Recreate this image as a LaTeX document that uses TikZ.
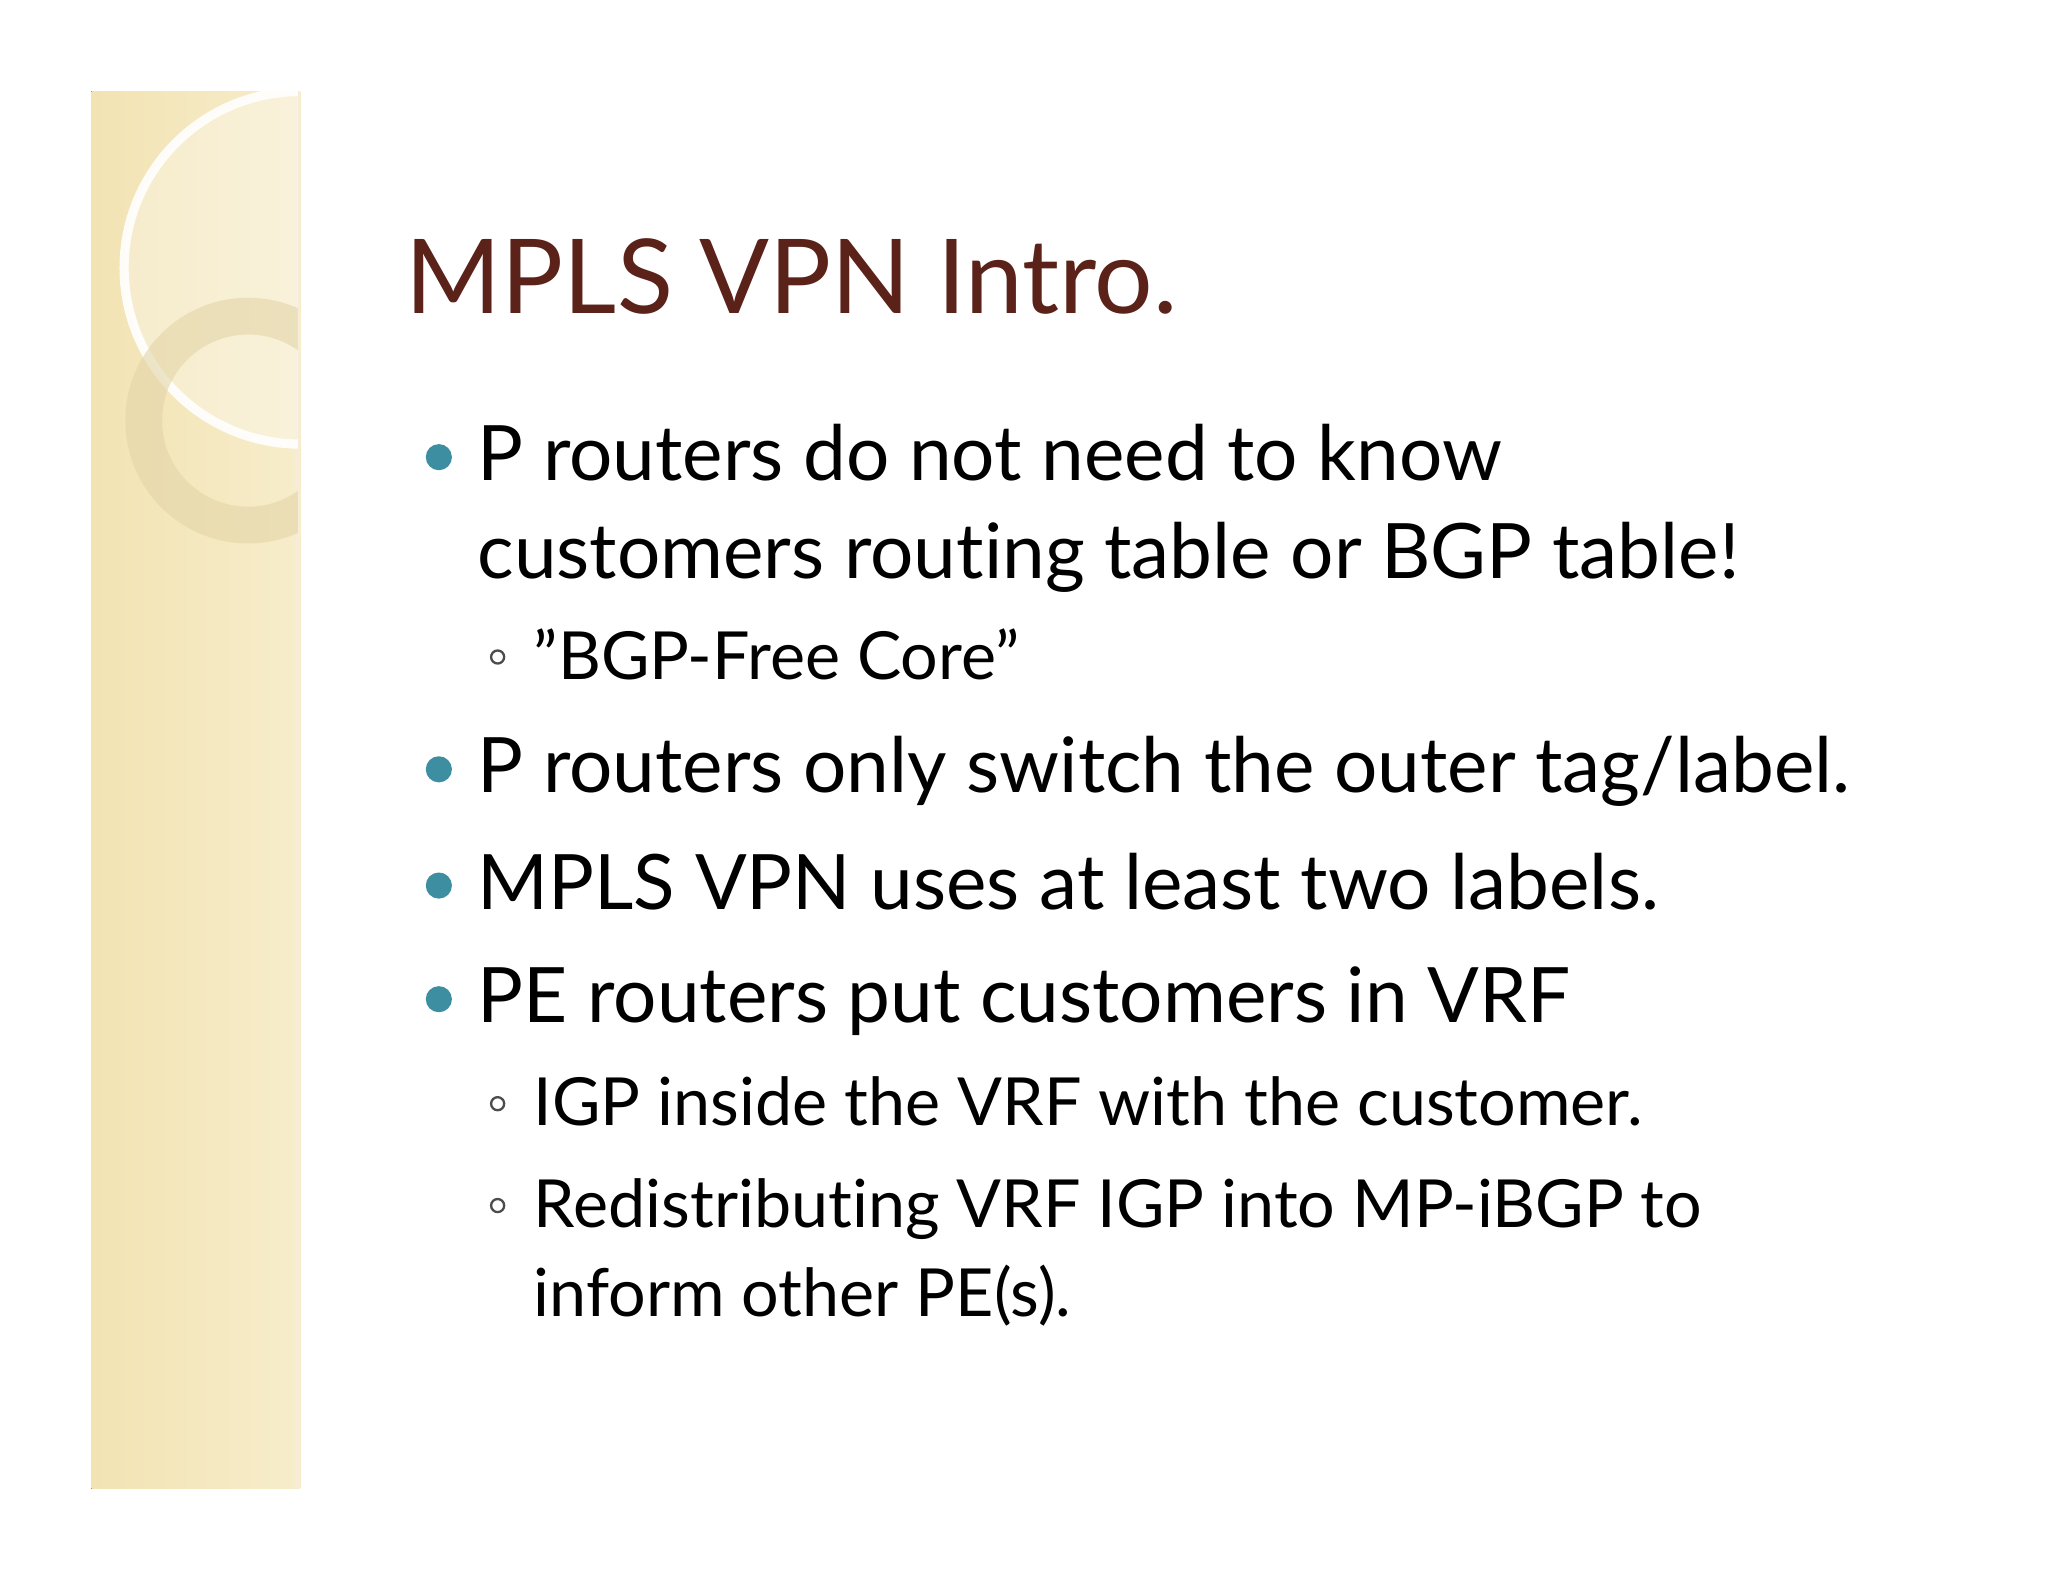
\documentclass[tikz,border=0pt]{standalone}
\usepackage{fontspec}
\setmainfont[Ligatures={NoCommon}]{Lato}
\definecolor{band}{HTML}{F2E3B3}
\definecolor{bandlight}{HTML}{F7EDCB}
\definecolor{titlec}{HTML}{5A2218}
\definecolor{bulc}{HTML}{3C8EA0}
\begin{document}
\begin{tikzpicture}[x=0.01cm,y=-0.01cm,
  txt/.style={anchor=base west,inner sep=0pt,font=\fontsize{16.65}{20}\selectfont,text=black},
  subtxt/.style={anchor=base west,inner sep=0pt,font=\fontsize{14.45}{18}\selectfont,text=black},
  bul/.style={circle,fill=bulc,inner sep=0pt,minimum size=0.2cm},
  subbul/.style={circle,draw=black!70,line width=0.5pt,inner sep=0pt,minimum size=0.1cm}]
\fill[white] (0,0) rectangle (1568,1211);
\useasboundingbox (0,0) rectangle (1568,1211);
% band
\fill[left color=band,right color=bandlight] (70,70) rectangle (230,1140);
\fill[band!80!brown!40] (226,70) rectangle (230,1140);
\begin{scope}
\clip (70,70) rectangle (228,1140);
\fill[white,opacity=0.3] (230,205) circle (135);
\draw[white,line width=2pt,opacity=0.9] (230,205) circle (135);
\draw[black!6!band,line width=8pt,opacity=0.6] (190,322) circle (80);
\end{scope}
% title
\node[anchor=base west,inner sep=0pt,font=\fontsize{22.5}{26}\selectfont,text=titlec] (title) at (310,240) {MPLS VPN Intro.};
% bullets
\node[bul] (b1) at (336,350) {};
\node[txt] (t1) at (365,368) {P routers do not need to know};
\node[txt] (t1b) at (365,443) {customers routing table or BGP table!};
\node[subbul] (s1) at (381,503) {};
\node[subtxt] (u1) at (408,520) {\symbol{34}BGP-Free Core\symbol{34}};
\node[bul] (b2) at (336,589) {};
\node[txt] (t2) at (365,607) {P routers only switch the outer tag/label.};
\node[bul] (b3) at (336,678) {};
\node[txt] (t3) at (365,696) {MPLS VPN uses at least two labels.};
\node[bul] (b4) at (336,765) {};
\node[txt] (t4) at (365,783) {PE routers put customers in VRF};
\node[subbul] (s2) at (381,845) {};
\node[subtxt] (u2) at (408,862) {IGP inside the VRF with the customer.};
\node[subbul] (s3) at (381,923) {};
\node[subtxt] (u3) at (408,940) {Redistributing VRF IGP into MP-iBGP to};
\node[subtxt] (u3b) at (408,1008) {inform other PE(s).};
\end{tikzpicture}
\end{document}
